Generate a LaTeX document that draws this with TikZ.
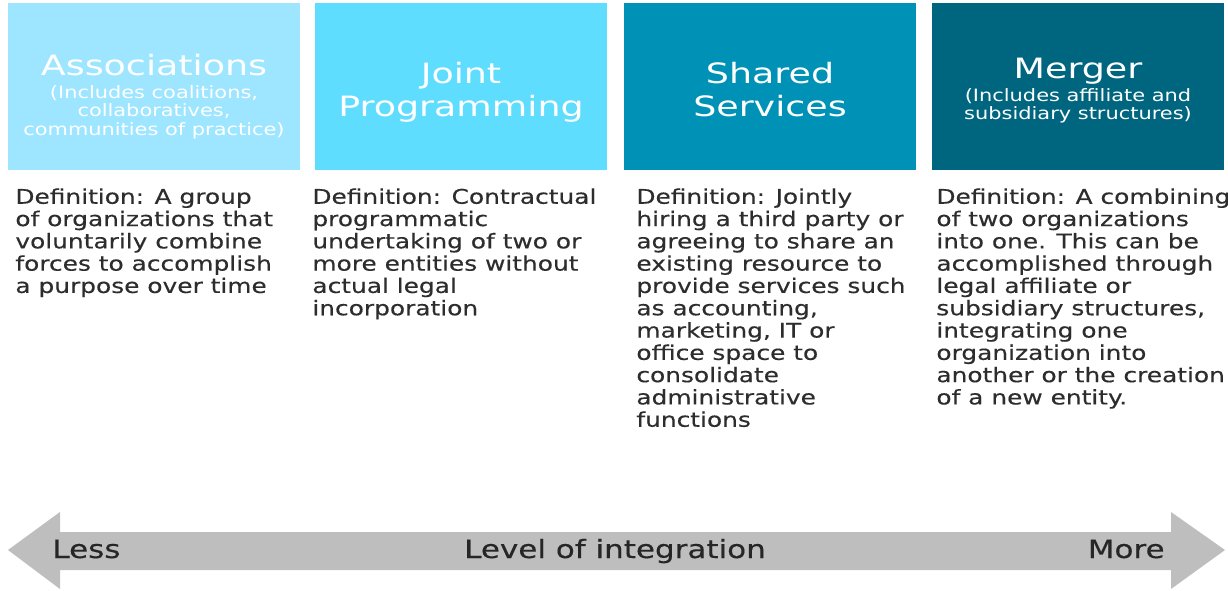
\documentclass[tikz,border=0pt]{standalone}
\usepackage{fontspec}
\setmainfont{DejaVu Sans}[FakeStretch=1.23]
\newfontfamily\headfont{DejaVu Sans}[FakeStretch=1.3]
\newfontfamily\bodyfont{DejaVu Sans}[FakeStretch=1.23, FakeBold=0.35]
\usepackage{tikz}
\usepackage{xcolor}
\definecolor{assoccolor}{RGB}{158,230,255}
\definecolor{jointcolor}{RGB}{95,221,255}
\definecolor{sharedcolor}{RGB}{0,146,182}
\definecolor{mergercolor}{RGB}{0,102,128}
\definecolor{defcolor}{RGB}{45,45,45}
\definecolor{arrowgray}{RGB}{190,190,190}

\begin{document}
\begin{tikzpicture}[x=0.5pt, y=-0.5pt,
  box/.style={minimum width=146pt, minimum height=83.5pt, inner sep=0pt},
  title/.style={text=white, font=\headfont\fontsize{14}{16.5}\selectfont, align=center, inner sep=0pt},
  subtitle/.style={text=white, font=\fontsize{8.5}{9.25}\selectfont, align=center, inner sep=0pt, anchor=north},
  deftext/.style={text=defcolor, font=\bodyfont\fontsize{10.1}{11.15}\selectfont, align=left, inner sep=0pt, anchor=north west},
  scalelabel/.style={text=black!85, font=\bodyfont\fontsize{12.6}{14}\selectfont, inner sep=0pt}]
\useasboundingbox (0,0) rectangle (1228,590);

% Boxes
\node[box, fill=assoccolor] (assoc) at (154,86.5) {};
\node[box, fill=jointcolor] (joint) at (461,86.5) {};
\node[box, fill=sharedcolor] (shared) at (770,86.5) {};
\node[box, fill=mergercolor] (merger) at (1078,86.5) {};

% Box titles
\node[title, anchor=base] (assoctitle) at (154,75) {Associations};
\node[subtitle] (assocsub) at (154,85) {(Includes coalitions,\\collaboratives,\\communities of practice)};
\node[title, anchor=north] (jointtitle) at (461,62) {Joint\\Programming};
\node[title, anchor=north] (sharedtitle) at (770,62) {Shared\\Services};
\node[title, anchor=base] (mergertitle) at (1078,78) {Merger};
\node[subtitle] (mergersub) at (1078,88) {(Includes affiliate and\\subsidiary structures)};

% Definitions
\node[deftext] (assocdef) at (15,188) {Definition: A group\\of organizations that\\voluntarily combine\\forces to accomplish\\a purpose over time};
\node[deftext] (jointdef) at (312,188) {Definition: Contractual\\programmatic\\undertaking of two or\\more entities without\\actual legal\\incorporation};
\node[deftext] (shareddef) at (636,188) {Definition: Jointly\\hiring a third party or\\agreeing to share an\\existing resource to\\provide services such\\as accounting,\\marketing, IT or\\office space to\\consolidate\\administrative\\functions};
\node[deftext] (mergerdef) at (936,188) {Definition: A combining\\of two organizations\\into one. This can be\\accomplished through\\legal affiliate or\\subsidiary structures,\\integrating one\\organization into\\another or the creation\\of a new entity.};

% Integration scale
\fill[arrowgray] (8,550) -- (60,512) -- (60,532) -- (1171,532) -- (1171,512) -- (1225,550)
  -- (1171,589) -- (1171,570) -- (60,570) -- (60,589) -- cycle;
\node[scalelabel, anchor=base west] (less) at (52,558) {Less};
\node[scalelabel, anchor=base] (level) at (615,558) {Level of integration};
\node[scalelabel, anchor=base east] (more) at (1165,558) {More};

\end{tikzpicture}
\end{document}
